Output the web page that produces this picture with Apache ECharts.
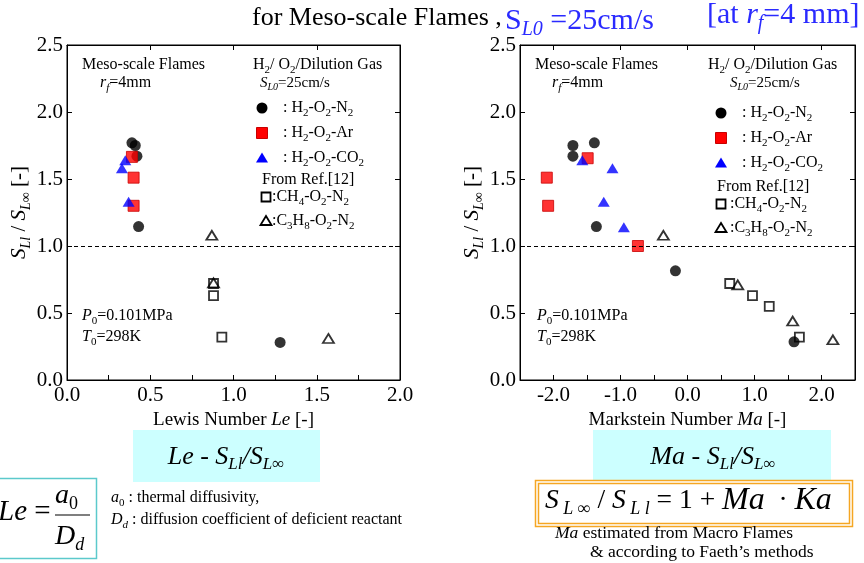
<!DOCTYPE html>
<html><head><meta charset="utf-8">
<script src="https://cdn.jsdelivr.net/npm/echarts@6/dist/echarts.min.js"></script>
<style>html,body{margin:0;padding:0;background:#fff}#c{width:864px;height:563px}</style>
</head><body><div id="c"></div>
<script>
// Lewis-number panel: [Le, S_Ll / S_L∞]
const leH2O2N2   = [[0.39,1.77],[0.41,1.75],[0.42,1.67],[0.43,1.145],[1.28,0.28]];
const leH2O2Ar   = [[0.39,1.665],[0.40,1.51],[0.40,1.30]];
const leH2O2CO2  = [[0.35,1.64],[0.33,1.58],[0.37,1.33]];
const leCH4O2N2  = [[0.88,0.72],[0.88,0.63],[0.93,0.32]];
const leC3H8O2N2 = [[0.87,1.08],[0.88,0.725],[1.57,0.31]];
// Markstein-number panel: [Ma, S_Ll / S_L∞]
const maH2O2N2   = [[-1.71,1.75],[-1.39,1.77],[-1.71,1.67],[-1.36,1.145],[-0.18,0.815],[1.59,0.285]];
const maH2O2Ar   = [[-2.10,1.51],[-2.08,1.30],[-1.49,1.655],[-0.74,1.00]];
const maH2O2CO2  = [[-1.57,1.64],[-1.12,1.58],[-1.25,1.33],[-0.95,1.14]];
const maCH4O2N2  = [[0.63,0.72],[0.97,0.63],[1.22,0.55],[1.67,0.32]];
const maC3H8O2N2 = [[-0.36,1.08],[0.75,0.71],[1.57,0.44],[2.17,0.30]];
// unity reference ratio (dashed line)
const unityRatio = 1.0;
// axis ranges
const leRange = [0, 2.0];
const maRange = [-2.5, 2.5];
const ratioRange = [0, 2.5];

const F = "'Liberation Serif','Times New Roman',serif";
const BLUE = '#2a2aff';

// rich-text styles: n normal, i italic, b subscript, bi italic subscript, I large italic
function rich(s, c) {
  const sub = Math.round(s * 0.66), pad = Math.round(s * 0.6);
  return {
    n:  {fontFamily: F, fontSize: s, color: c, fill: c},
    i:  {fontFamily: F, fontSize: s, fontStyle: 'italic', color: c, fill: c},
    b:  {fontFamily: F, fontSize: sub, padding: [pad, 0, 0, 0], color: c, fill: c},
    bi: {fontFamily: F, fontSize: sub, fontStyle: 'italic', padding: [pad, 0, 0, 0], color: c, fill: c},
    I:  {fontFamily: F, fontSize: Math.round(s * 1.15), fontStyle: 'italic', color: c, fill: c}
  };
}
const n = t => `{n|${t}}`, i = t => `{i|${t}}`, b = t => `{b|${t}}`, bi = t => `{bi|${t}}`, I = t => `{I|${t}}`;

function txt(x, y, text, s, c, align) {
  c = c || '#000';
  return {type: 'text', x: x, y: y, silent: true, z: 10,
    style: {text: text, rich: rich(s, c), fill: c, align: align || 'left', verticalAlign: 'middle',
            font: s + 'px ' + F}};
}
const chem = (pre, parts) => n(pre) + parts.map(p => typeof p === 'string' ? n(p) : b(p[0])).join('');

// in-plot annotation block for one panel
function panelNotes(o) {
  const g = [];
  g.push(txt(o.meso[0], o.meso[1], n('Meso-scale Flames'), 16));
  g.push(txt(o.rf[0], o.rf[1], i('r') + bi('f') + n('=4mm'), 16));
  g.push(txt(o.gas[0], o.gas[1], n('H') + b('2') + n('/ O') + b('2') + n('/Dilution Gas'), 16));
  g.push(txt(o.sl[0], o.sl[1], i('S') + bi('L0') + n('=25cm/s'), 15));
  const lx = o.leg[0], ly = o.leg[1];
  g.push({type: 'circle', shape: {cx: lx, cy: ly, r: 5.5}, style: {fill: '#000'}, silent: true});
  g.push(txt(lx + 21, ly, chem(': H', [['2'], '-O', ['2'], '-N', ['2']]), 16));
  g.push({type: 'rect', shape: {x: lx - 5.5, y: ly + 25 - 5.5, width: 11, height: 11}, style: {fill: '#ff0000', stroke: '#c80000', lineWidth: 1}, silent: true});
  g.push(txt(lx + 21, ly + 25, chem(': H', [['2'], '-O', ['2'], '-Ar']), 16));
  g.push({type: 'polygon', shape: {points: [[lx, ly + 50 - 5.5], [lx + 6, ly + 50 + 4.5], [lx - 6, ly + 50 + 4.5]]}, style: {fill: '#0000ff'}, silent: true});
  g.push(txt(lx + 21, ly + 50, chem(': H', [['2'], '-O', ['2'], '-CO', ['2']]), 16));
  const rx = o.ref[0], ry = o.ref[1];
  g.push(txt(rx, ry, n('From Ref.[12]'), 16));
  g.push({type: 'rect', shape: {x: rx + 4 - 4.5, y: ry + 17 - 4.5, width: 9, height: 9}, style: {fill: 'none', stroke: '#000', lineWidth: 1.8}, silent: true});
  g.push(txt(rx + o.refTx, ry + 17, chem(':CH', [['4'], '-O', ['2'], '-N', ['2']]), 16));
  g.push({type: 'polygon', shape: {points: [[rx + 4, ry + 41 - 5], [rx + 9.5, ry + 41 + 4], [rx - 1.5, ry + 41 + 4]]}, style: {fill: 'none', stroke: '#000', lineWidth: 1.8}, silent: true});
  g.push(txt(rx + o.refTx, ry + 41, chem(':C', [['3'], 'H', ['8'], '-O', ['2'], '-N', ['2']]), 16));
  g.push(txt(o.p0[0], o.p0[1], i('P') + b('0') + n('=0.101MPa'), 16));
  g.push(txt(o.p0[0], o.p0[1] + 21, i('T') + b('0') + n('=298K'), 16));
  return g;
}

const graphics = [].concat(
  // heading line
  [txt(252, 18, n('for Meso-scale Flames ,'), 26),
   txt(505, 21, n('S') + bi('L0') + n(' =25cm/s'), 30, BLUE),
   txt(707, 15, n('[at ') + i('r') + bi('f') + n('=4 mm]'), 30, BLUE)],
  panelNotes({meso: [82, 65], rf: [100, 83], gas: [253, 65], sl: [260, 83], leg: [262, 108],
              ref: [262, 180], refTx: 10, p0: [82, 316]}),
  panelNotes({meso: [535, 65], rf: [552, 83], gas: [708, 65], sl: [730, 83], leg: [721, 113],
              ref: [717, 187], refTx: 13, p0: [537, 316]}),
  [
    // correlation captions
    {type: 'rect', shape: {x: 133, y: 430, width: 187, height: 52}, style: {fill: '#ccffff'}, silent: true},
    txt(226, 457, i('Le') + n(' - ') + i('S') + bi('Ll') + i('/S') + bi('L') + b('∞'), 26, '#000', 'center'),
    {type: 'rect', shape: {x: 593, y: 430, width: 238, height: 50}, style: {fill: '#ccffff'}, silent: true},
    txt(713, 457, i('Ma') + n(' - ') + i('S') + bi('Ll') + i('/S') + bi('L') + b('∞'), 26, '#000', 'center'),
    // Markstein relation
    {type: 'rect', shape: {x: 535.5, y: 480.5, width: 317, height: 46}, style: {fill: '#fff', stroke: '#f5a623', lineWidth: 1.5}, silent: true},
    {type: 'rect', shape: {x: 538.5, y: 483.5, width: 311, height: 40}, style: {fill: 'none', stroke: '#f5a623', lineWidth: 1.5}, silent: true},
    txt(545, 501, i('S') + bi(' L ∞') + n(' / ') + i('S') + bi(' L l') + n(' = 1 + ') + I('Ma') + n('  · ') + I('Ka'), 27.5),
    txt(555, 533, i('Ma') + n(' estimated from Macro Flames'), 17.5),
    txt(590, 552, n('& according to Faeth’s methods'), 17.5),
    // Lewis number definition
    {type: 'rect', shape: {x: -1, y: 478.5, width: 97.5, height: 80}, style: {fill: '#fff', stroke: '#5cc9cc', lineWidth: 1.5}, silent: true},
    txt(-2, 512, i('Le') + n(' ='), 29),
    txt(55, 496, i('a') + b('0'), 28),
    {type: 'line', shape: {x1: 55, y1: 515, x2: 90, y2: 515}, style: {stroke: '#000', lineWidth: 1.2}, silent: true},
    txt(55, 537, i('D') + bi('d'), 28),
    txt(111, 498, i('a') + b('0') + n(' : thermal diffusivity,'), 16),
    txt(111, 520, i('D') + bi('d') + n(' : diffusion coefficient of deficient reactant'), 16)
  ]
);

const tickLabel = {fontFamily: F, fontSize: 21, color: '#000'};
const yName = i('S') + bi('Ll') + n(' / ') + i('S') + bi('L') + b('∞') + n(' [-]');
const tick = {show: true, inside: true, length: 5, lineStyle: {color: '#000', width: 1}};
const line = {show: true, onZero: false, lineStyle: {color: '#000', width: 1}};

function yAxes(grid) {
  return [
    {type: 'value', gridIndex: grid, position: 'left', min: ratioRange[0], max: ratioRange[1], interval: 0.5,
     axisLine: line, axisTick: tick, splitLine: {show: false},
     axisLabel: Object.assign({margin: 4, formatter: v => v.toFixed(1)}, tickLabel),
     name: yName, nameLocation: 'middle', nameGap: 33, nameRotate: 90,
     nameTextStyle: {rich: rich(21, '#000')}},
    {type: 'value', gridIndex: grid, position: 'right', min: ratioRange[0], max: ratioRange[1], interval: 0.5,
     axisLine: line, axisTick: tick, splitLine: {show: false}, axisLabel: {show: false}}
  ];
}

const option = {
  animation: false,
  backgroundColor: '#fff',
  grid: [
    {left: 67, top: 45, width: 333, height: 335, show: true, borderColor: '#000', borderWidth: 1},
    {left: 520, top: 45, width: 335, height: 335, show: true, borderColor: '#000', borderWidth: 1}
  ],
  xAxis: [
    {type: 'value', gridIndex: 0, position: 'bottom', min: leRange[0], max: leRange[1], interval: 0.25,
     axisLine: line, axisTick: tick, splitLine: {show: false},
     axisLabel: Object.assign({margin: 5, formatter: v => (Math.abs(v * 2 - Math.round(v * 2)) < 1e-6 ? v.toFixed(1) : '')}, tickLabel),
     name: n('Lewis Number ') + i('Le') + n(' [-]'), nameLocation: 'middle', nameGap: 28,
     nameTextStyle: {rich: rich(19, '#000')}},
    {type: 'value', gridIndex: 0, position: 'top', min: leRange[0], max: leRange[1], interval: 0.5,
     axisLine: line, axisTick: tick, splitLine: {show: false}, axisLabel: {show: false}},
    {type: 'value', gridIndex: 1, position: 'bottom', min: maRange[0], max: maRange[1], interval: 0.5,
     axisLine: line, axisTick: tick, splitLine: {show: false},
     axisLabel: Object.assign({margin: 5, formatter: v => (Math.abs(v - Math.round(v)) < 1e-6 ? v.toFixed(1) : '')}, tickLabel),
     name: n('Markstein Number ') + i('Ma') + n(' [-]'), nameLocation: 'middle', nameGap: 28,
     nameTextStyle: {rich: rich(19, '#000')}},
    {type: 'value', gridIndex: 1, position: 'top', min: maRange[0], max: maRange[1], interval: 0.5,
     axisLine: line, axisTick: Object.assign({customValues: [-2, -1, 0, 1, 2]}, tick), splitLine: {show: false}, axisLabel: {show: false}}
  ],
  yAxis: yAxes(0).concat(yAxes(1)),
  series: []
};

function addPanel(xi, yi, sets) {
  const open = {color: 'rgba(0,0,0,0)', borderColor: '#000', borderWidth: 1.8};
  option.series.push(
    {name: 'CH4-O2-N2', type: 'scatter', xAxisIndex: xi, yAxisIndex: yi, data: sets.ch4, symbol: 'rect', symbolSize: 9, itemStyle: open},
    {name: 'C3H8-O2-N2', type: 'scatter', xAxisIndex: xi, yAxisIndex: yi, data: sets.c3h8, symbol: 'triangle', symbolSize: [11, 9], itemStyle: open},
    {name: 'H2-O2-N2', type: 'scatter', xAxisIndex: xi, yAxisIndex: yi, data: sets.n2, symbol: 'circle', symbolSize: 11, itemStyle: {color: '#000'},
     markLine: {silent: true, symbol: ['none', 'none'], label: {show: false}, lineStyle: {color: '#000', width: 1, type: [4, 3]},
                data: [{yAxis: unityRatio}]}},
    {name: 'H2-O2-Ar', type: 'scatter', xAxisIndex: xi, yAxisIndex: yi, data: sets.ar, symbol: 'rect', symbolSize: 11, itemStyle: {color: '#ff0000', borderColor: '#c80000', borderWidth: 1}},
    {name: 'H2-O2-CO2', type: 'scatter', xAxisIndex: xi, yAxisIndex: yi, data: sets.co2, symbol: 'triangle', symbolSize: [12, 10], itemStyle: {color: '#0000ff'}}
  );
}
addPanel(0, 0, {n2: leH2O2N2, ar: leH2O2Ar, co2: leH2O2CO2, ch4: leCH4O2N2, c3h8: leC3H8O2N2});
addPanel(2, 2, {n2: maH2O2N2, ar: maH2O2Ar, co2: maH2O2CO2, ch4: maCH4O2N2, c3h8: maC3H8O2N2});
option.graphic = {elements: graphics};

const chart = echarts.init(document.getElementById('c'), null, {renderer: 'canvas'});
chart.setOption(option);
</script></body></html>
